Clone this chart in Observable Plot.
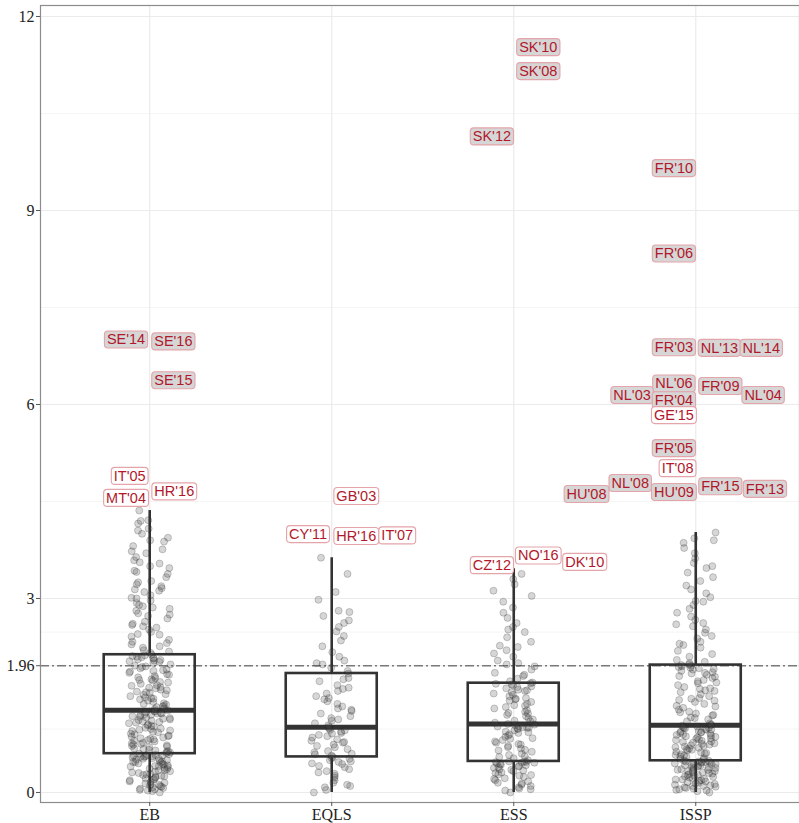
<!DOCTYPE html>
<html><head><meta charset="utf-8">
<script src="https://cdn.jsdelivr.net/npm/d3@7"></script>
<script src="https://cdn.jsdelivr.net/npm/@observablehq/plot@0.6"></script>
<style>body{margin:0;background:#fff}</style>
</head><body><div id="chart"></div>
<script>
const surveys = ["EB", "EQLS", "ESS", "ISSP"];
const yTicks = [0, 1.96, 3, 6, 9, 12];
const minorTicks = [0.98, 2.48, 4.5, 7.5, 10.5];
const threshold = 1.96;

// box summaries
const boxLow = [0, 0, 0, 0];
const boxQ1 = [0.60, 0.55, 0.48, 0.49];
const boxMed = [1.27, 1.01, 1.06, 1.04];
const boxQ3 = [2.13, 1.84, 1.69, 1.97];
const boxHigh = [4.36, 3.63, 3.46, 4.02];

// jittered observations (approximate)
const ebValues = [0.00,0.02,0.03,0.06,0.07,0.1,0.11,0.13,0.16,0.17,0.2,0.21,0.22,0.25,0.27,0.28,0.3,0.33,0.34,0.35,0.38,0.4,0.41,0.42,0.45,0.46,0.47,0.5,0.51,0.52,0.53,0.55,0.56,0.56,0.57,0.58,0.59,0.6,0.04,0.09,0.15,0.24,0.31,0.37,0.44,0.49,0.54,0.58,
 0.62,0.63,0.66,0.67,0.7,0.72,0.73,0.75,0.77,0.79,0.82,0.83,0.84,0.87,0.88,0.9,0.93,0.95,0.96,0.98,1.0,1.02,1.04,1.05,1.07,1.09,1.1,1.12,1.14,1.15,1.17,1.18,1.2,1.21,1.22,1.23,1.25,1.26,0.68,0.81,0.94,1.08,1.19,1.27,
 1.29,1.32,1.34,1.37,1.38,1.42,1.44,1.45,1.49,1.51,1.52,1.56,1.58,1.61,1.63,1.65,1.66,1.7,1.73,1.75,1.77,1.8,1.82,1.83,1.87,1.89,1.9,1.94,1.96,1.98,2.0,2.02,2.04,2.05,2.07,2.09,2.1,2.11,2.12,1.36,1.55,1.68,1.85,2.03,2.13,
 2.16,2.2,2.24,2.29,2.33,2.36,2.41,2.45,2.48,2.52,2.57,2.61,2.64,2.69,2.73,2.77,2.81,2.84,2.88,2.93,2.97,3.01,3.05,3.1,3.14,3.19,3.22,3.27,3.33,3.38,3.43,3.47,3.54,3.59,3.64,3.7,3.76,3.81,3.88,3.94,4.0,4.08,4.16,4.2,4.36,2.26,2.55,2.9,3.16,3.5,
 0.05,0.12,0.19,0.26,0.32,0.39,0.43,0.48,0.52,0.57,0.08,0.14,0.23,0.29,0.36,0.41,0.47,0.55,0.61,0.65,0.71,0.76,0.8,0.86,0.91,0.97,1.03,1.11,1.16,1.24,0.64,0.74,0.85,0.99,1.13,1.22,
 1.3,1.4,1.47,1.54,1.62,1.71,1.78,1.88,1.95,2.06,1.33,1.46,1.59,1.74,1.92,2.08,2.18,2.31,2.44,2.59,2.75,2.86,3.0,3.12,3.25,3.41,3.56,3.73,3.9,4.05,4.21];
const eqlsValues = [0.0,0.04,0.08,0.1,0.15,0.19,0.23,0.26,0.29,0.33,0.36,0.39,0.41,0.44,0.47,0.48,0.5,0.52,0.53,0.55,
 0.57,0.59,0.62,0.64,0.67,0.7,0.72,0.74,0.77,0.8,0.82,0.85,0.87,0.89,0.92,0.94,0.96,0.97,0.99,1.01,
 1.04,1.07,1.11,1.15,1.18,1.22,1.26,1.3,1.33,1.37,1.41,1.46,1.49,1.53,1.57,1.62,1.66,1.72,1.77,1.84,
 1.88,1.93,1.98,2.04,2.1,2.17,2.26,2.35,2.42,2.49,2.56,2.62,2.66,2.73,2.79,2.81,2.98,3.1,3.38,3.63,
 0.12,0.31,0.45,0.6,0.78,0.91,1.13,1.28,1.44,1.6,1.75,2.0];
const essValues = [0.0,0.03,0.05,0.08,0.1,0.12,0.15,0.17,0.19,0.22,0.24,0.26,0.28,0.3,0.31,0.33,0.35,0.36,0.38,0.39,0.41,0.42,0.43,0.44,0.45,0.46,0.47,0.47,0.48,0.48,
 0.5,0.53,0.55,0.58,0.6,0.63,0.65,0.68,0.7,0.72,0.74,0.77,0.79,0.81,0.83,0.86,0.88,0.9,0.92,0.94,0.96,0.98,0.99,1.0,1.01,1.02,1.03,1.04,1.05,1.06,
 1.08,1.1,1.13,1.15,1.18,1.2,1.22,1.25,1.27,1.3,1.32,1.35,1.37,1.4,1.42,1.44,1.46,1.49,1.51,1.53,1.55,1.57,1.59,1.61,1.63,1.64,1.66,1.67,1.68,1.69,
 1.72,1.76,1.8,1.85,1.9,1.95,2.0,2.04,2.1,2.15,2.2,2.27,2.33,2.4,2.48,2.56,2.62,2.7,2.78,2.86,2.95,3.04,3.12,3.22,3.3,3.38,3.46,2.25,2.52,1.98,
 0.06,0.14,0.21,0.27,0.34,0.4,0.46,0.56,0.66,0.75,0.84,0.93,1.0,1.11,1.23,1.34,1.45,1.58,1.7,1.82];
const isspValues = [0.0,0.02,0.04,0.05,0.07,0.09,0.1,0.12,0.14,0.15,0.17,0.19,0.2,0.22,0.23,0.25,0.26,0.28,0.29,0.3,0.32,0.33,0.34,0.35,0.37,0.38,0.39,0.4,0.41,0.42,0.43,0.44,0.45,0.46,0.46,0.47,0.48,0.48,0.49,0.49,0.06,0.18,0.27,0.36,0.44,
 0.51,0.53,0.55,0.57,0.59,0.61,0.63,0.65,0.67,0.69,0.7,0.72,0.74,0.76,0.77,0.79,0.81,0.82,0.84,0.85,0.87,0.88,0.9,0.91,0.93,0.94,0.95,0.97,0.98,0.99,1.0,1.01,1.02,1.03,1.04,0.58,0.71,0.83,0.92,1.0,
 1.07,1.1,1.13,1.16,1.19,1.22,1.25,1.28,1.31,1.34,1.37,1.4,1.43,1.46,1.49,1.52,1.55,1.58,1.61,1.63,1.66,1.69,1.72,1.74,1.77,1.79,1.82,1.84,1.86,1.88,1.9,1.92,1.93,1.95,1.96,1.2,1.42,1.6,1.8,1.97,
 2.0,2.05,2.1,2.14,2.19,2.24,2.28,2.33,2.38,2.42,2.47,2.52,2.57,2.62,2.67,2.72,2.78,2.84,2.9,2.96,3.02,3.08,3.14,3.2,3.27,3.33,3.4,3.47,3.55,3.62,3.7,3.78,3.86,3.93,4.02,2.3,2.6,2.95,3.5,3.9,
 0.03,0.08,0.11,0.16,0.21,0.24,0.31,0.35,0.39,0.42,0.47,0.13,0.27,0.52,0.6,0.66,0.73,0.8,0.86,0.93,0.97,0.56,0.68,0.78,0.89,1.05,1.15,1.24,1.33,1.45,1.57,1.7,1.85,1.94,2.02,1.98,1.91,0.1,0.2,0.33,0.45,0.62,0.75];

// labelled outliers
const labelSurvey = ["EB","EB","EB","EB","EB","EB",
  "EQLS","EQLS","EQLS","EQLS",
  "ESS","ESS","ESS","ESS","ESS","ESS",
  "ISSP","ISSP","ISSP","ISSP","ISSP","ISSP","ISSP","ISSP","ISSP","ISSP","ISSP","ISSP","ISSP","ISSP","ISSP","ISSP","ISSP","ISSP"];
const labelText = ["SE'14","SE'16","SE'15","IT'05","MT'04","HR'16",
  "GB'03","CY'11","HR'16","IT'07",
  "SK'10","SK'08","SK'12","CZ'12","NO'16","DK'10",
  "FR'10","FR'06","FR'03","NL'13","NL'14","NL'06","FR'09","NL'03","FR'04","NL'04","GE'15","FR'05","IT'08","NL'08","HU'08","HU'09","FR'15","FR'13"];
const labelValue = [7.00,6.97,6.37,4.89,4.55,4.65,
  4.58,3.99,3.96,3.97,
  11.52,11.15,10.14,3.51,3.66,3.56,
  9.65,8.33,6.88,6.87,6.87,6.32,6.28,6.14,6.06,6.14,5.83,5.32,5.01,4.78,4.61,4.64,4.73,4.69];
const labelNudge = [-0.13,0.13,0.13,-0.11,-0.13,0.135,
  0.135,-0.13,0.135,0.36,
  0.135,0.135,-0.12,-0.12,0.135,0.39,
  -0.12,-0.12,-0.12,0.13,0.36,-0.12,0.135,-0.35,-0.12,0.37,-0.12,-0.12,-0.1,-0.36,-0.6,-0.12,0.135,0.38];
const labelShaded = [true,true,true,false,false,false,
  false,false,false,false,
  true,true,true,false,false,false,
  true,true,true,true,true,true,true,true,true,true,false,true,false,true,true,true,true,true];

const valuesBySurvey = [ebValues, eqlsValues, essValues, isspValues];
const points = [];
valuesBySurvey.forEach((vals, s) => vals.forEach((v, i) => {
  const h = Math.sin((i + 1) * 12.9898 + (s + 1) * 78.233) * 43758.5453; // deterministic jitter
  const j = (h - Math.floor(h)) - 0.5;
  points.push({x: s + 1 + j * 0.23, y: v});
}));
const boxes = surveys.map((s, i) => ({i: i + 1, lo: boxLow[i], q1: boxQ1[i], med: boxMed[i], q3: boxQ3[i], hi: boxHigh[i]}));
const labels = labelText.map((t, i) => ({t, x: surveys.indexOf(labelSurvey[i]) + 1 + labelNudge[i], y: labelValue[i], shaded: labelShaded[i]}));

const ink = "#333333";
const serif = "Liberation Serif, DejaVu Serif, serif";
const sans = "Liberation Sans, Arial, sans-serif";

const chart = Plot.plot({
  width: 799, height: 823,
  marginLeft: 40, marginRight: 0, marginTop: 5, marginBottom: 21,
  x: {domain: [0.4, 4.57]},
  y: {domain: [-0.155, 12.17]},
  style: {background: "#fff"},
  marks: [
    Plot.ruleY(minorTicks, {stroke: "#f3f3f3", strokeWidth: 0.8}),
    Plot.ruleY(yTicks, {stroke: "#ebebeb", strokeWidth: 1.2}),
    Plot.ruleX([1, 2, 3, 4], {stroke: "#ebebeb", strokeWidth: 1.2}),
    Plot.ruleY([threshold], {stroke: "#7a7a7a", strokeWidth: 1.6, strokeDasharray: "9,3,2,3"}),
    Plot.ruleX(boxes, {x: "i", y1: "lo", y2: "q1", stroke: ink, strokeWidth: 2.6}),
    Plot.ruleX(boxes, {x: "i", y1: "q3", y2: "hi", stroke: ink, strokeWidth: 2.6}),
    Plot.rect(boxes, {x1: d => d.i - 0.25, x2: d => d.i + 0.25, y1: "q1", y2: "q3", fill: "none", stroke: ink, strokeWidth: 2.6}),
    Plot.ruleY(boxes, {x1: d => d.i - 0.25, x2: d => d.i + 0.25, y: "med", stroke: ink, strokeWidth: 5}),
    Plot.dot(points, {x: "x", y: "y", r: 3.5, fill: "#444", fillOpacity: 0.22, stroke: "#222", strokeOpacity: 0.28, strokeWidth: 0.8}),
    Plot.text(labels.filter(d => d.shaded), {x: "x", y: "y", text: "t", fill: "#b2182b", fontSize: 14.5, fontFamily: sans, className: "lbl-shaded"}),
    Plot.text(labels.filter(d => !d.shaded), {x: "x", y: "y", text: "t", fill: "#b2182b", fontSize: 14.5, fontFamily: sans, className: "lbl-plain"}),
    Plot.frame({stroke: "#8c8c8c", strokeWidth: 1.2}),
    Plot.axisY({ticks: yTicks, tickFormat: d => String(d), tickSize: 4, tickPadding: 2, stroke: "#555", fill: "#222", fontSize: 16, fontFamily: serif, label: null}),
    Plot.axisX({ticks: [1, 2, 3, 4], tickFormat: d => surveys[d - 1], tickSize: 4, tickPadding: 2, stroke: "#555", fill: "#222", fontSize: 16, fontFamily: serif, label: null})
  ]
});
document.getElementById("chart").appendChild(chart);

// rounded label boxes behind each label text
function boxify(cls, fill) {
  chart.querySelectorAll(`g.${cls} text`).forEach(t => {
    const b = t.getBBox();
    const r = document.createElementNS("http://www.w3.org/2000/svg", "rect");
    const px = 2.5, py = 0.5;
    r.setAttribute("x", b.x - px);
    r.setAttribute("y", b.y - py);
    r.setAttribute("width", b.width + 2 * px);
    r.setAttribute("height", b.height + 2 * py);
    r.setAttribute("rx", 3.5);
    r.setAttribute("fill", fill);
    r.setAttribute("stroke", "#e3a4aa");
    r.setAttribute("stroke-width", 1.1);
    if (t.getAttribute("transform")) r.setAttribute("transform", t.getAttribute("transform"));
    t.parentNode.insertBefore(r, t);
  });
}
boxify("lbl-shaded", "#d6d6d6");
boxify("lbl-plain", "#ffffff");
</script>
</body></html>
